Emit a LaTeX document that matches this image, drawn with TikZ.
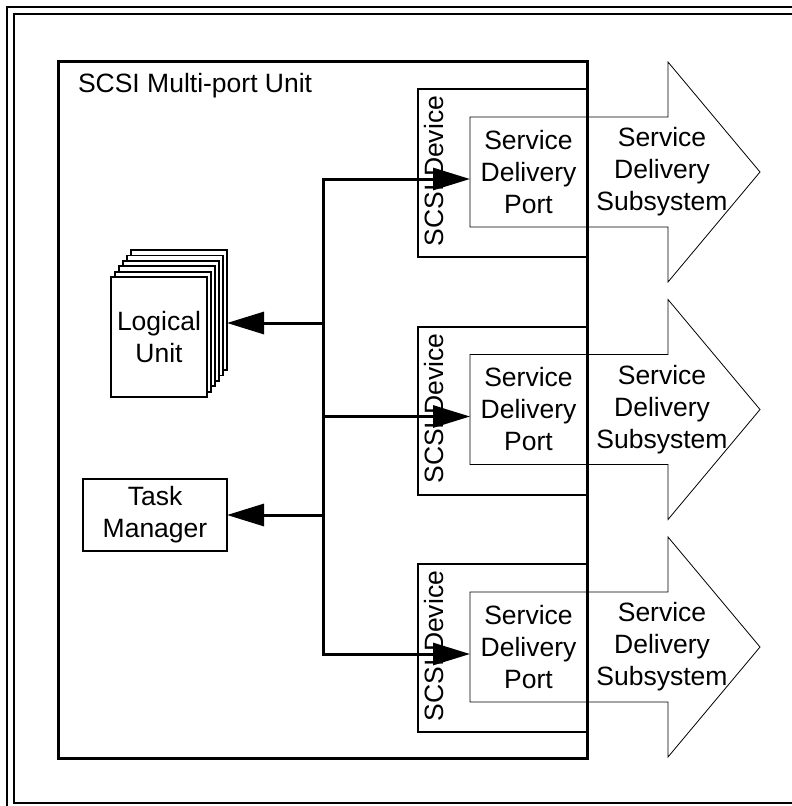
\documentclass[tikz,border=0pt]{standalone}
\usepackage{fontspec}
\setmainfont{Liberation Sans}
\usetikzlibrary{arrows.meta, positioning}
\tikzset{
>={Triangle[length=37pt, width=22pt]}, % long solid heads on the bus
every node/.style={font=\fontsize{26.5}{32}\selectfont, align=center, inner sep=0pt, outer sep=0pt},
framing/.style={line width=2.4pt}, % double frame round the page
unitbox/.style={draw, line width=3pt},
devbox/.style={draw, line width=2pt},
page/.style={draw, line width=1.8pt, fill=white, minimum width=96pt, minimum height=120pt, anchor=north west},
portarrow/.style={draw, line width=0.8pt, line join=miter},
bus/.style={line width=3pt},
}

\begin{document}
\begin{tikzpicture}[x=1pt, y=-1pt]
    \useasboundingbox (0,0) rectangle (792,806);
    \clip (0,0) rectangle (792,806);

    % frame
    \draw[framing] (7,7) rectangle (800,810);
    \draw[framing] (14,14) rectangle (793,803);

    % the three SCSI devices with their delivery arrows
    \foreach \i/\dy in {1/0, 2/237.5, 3/475} {
        \node[devbox, minimum width=169pt, minimum height=168pt, anchor=north west] (dev\i) at (418,89+\dy) {};
        \node[rotate=90] (devlabel\i) at (434,171+\dy) {SCSI Device};
        \draw[portarrow] (470,117+\dy) -- (668,117+\dy) -- (668,62+\dy) -- (760,172+\dy)
            -- (668,282+\dy) -- (668,227+\dy) -- (470,227+\dy) -- cycle;
        \node[minimum width=117pt, minimum height=110pt, anchor=west] (port\i) at (470,172+\dy) {Service\\Delivery\\Port};
        \node (sub\i) at (662,172+\dy) {Service\\Delivery\\Subsystem};
    }

    % multi-port unit
    \node[unitbox, minimum width=529pt, minimum height=697pt, anchor=north west] (unit) at (58,61) {};
    \node[anchor=base west] (unitlabel) at (78,92) {SCSI Multi-port Unit};

    % stack of logical units
    \foreach \k in {5,...,1}
        \node[page] (lu\k) at ({111+4*\k},{277-5.4*\k}) {};
    \node[page] (lu) at (111,277) {Logical\\Unit};

    \node[devbox, minimum width=144pt, minimum height=72pt] (tm) at (155,515) {Task\\Manager};

    % internal bus
    \coordinate (bus1) at (323,179);
    \coordinate (bus2) at (323,323);
    \coordinate (bus3) at (323,416.5);
    \coordinate (bus4) at (323,515);
    \coordinate (bus5) at (323,654);

    \draw[bus, <->] (bus1 -| port1.west) -- (bus1) -- (bus5) -- (bus5 -| port3.west);
    \draw[bus, ->] (bus3) -- (bus3 -| port2.west);
    \draw[bus, ->] (bus2) -- (bus2 -| lu5.east);
    \draw[bus, ->] (bus4) -- (tm.east);
\end{tikzpicture}
\end{document}
